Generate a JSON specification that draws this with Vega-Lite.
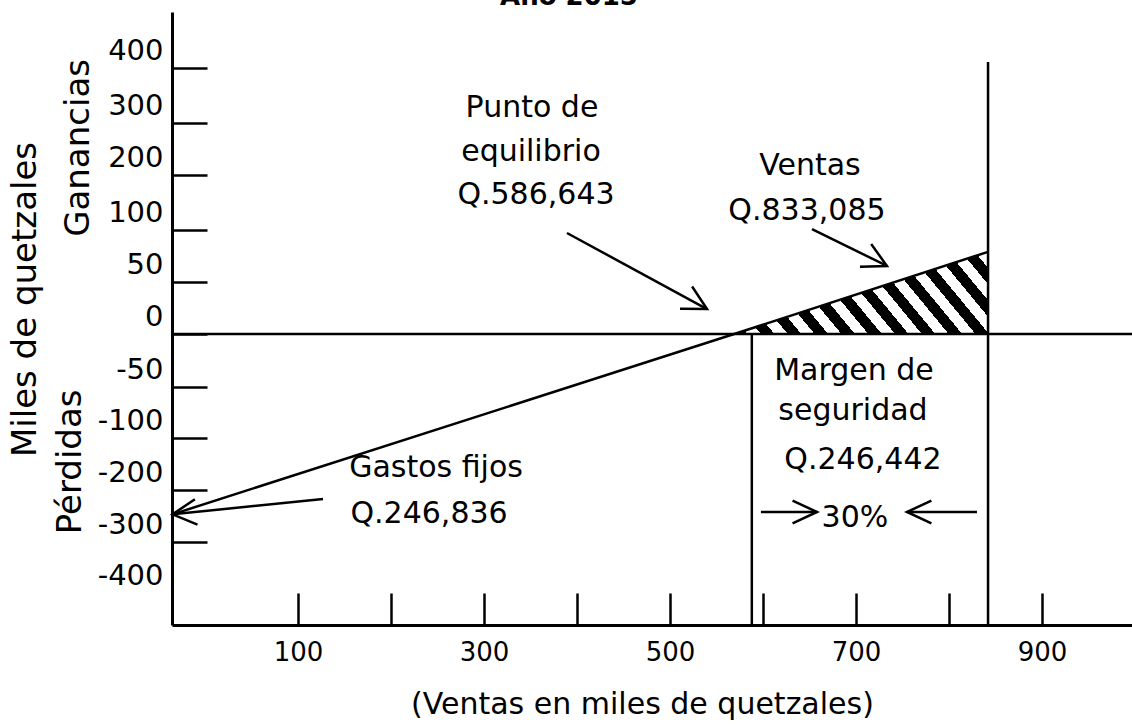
{
  "$schema": "https://vega.github.io/schema/vega-lite/v6.json",
  "width": 960,
  "height": 613,
  "autosize": {"type": "none"},
  "padding": {"left": 172, "top": 12, "right": 0, "bottom": 101},
  "background": "white",
  "config": {"view": {"stroke": null}, "font": "DejaVu Sans"},
  "datasets": {
    "equilibrio": [
      {"x": -35, "y": -246.8},
      {"x": 569, "y": 0},
      {"x": 842, "y": 79}
    ],
    "cero": [{"y": 0}],
    "verticales": [
      {"linea": "Punto de equilibrio", "x": 588, "y": 0, "y2": -462},
      {"linea": "Ventas", "x": 842, "y": 411, "y2": -462}
    ],
    "flechas": [
      {"flecha": "gastos", "x": 126.9, "y": -217.3, "x2": -35, "y2": -246.8},
      {"flecha": "punto", "x": 389.2, "y": 97.1, "x2": 539.8, "y2": 24.0},
      {"flecha": "ventas", "x": 652.7, "y": 101.8, "x2": 733.3, "y2": 65.4},
      {"flecha": "derecha", "x": 597.8, "y": -242.3, "x2": 658.1, "y2": -242.3},
      {"flecha": "izquierda", "x": 830.1, "y": -242.3, "x2": 754.8, "y2": -242.3}
    ],
    "textos": [
      {"texto": "Punto de", "x": 351.6, "y": 310.9},
      {"texto": "equilibrio", "x": 350.5, "y": 226.9},
      {"texto": "Q.586,643", "x": 355.9, "y": 147.3},
      {"texto": "Ventas", "x": 650.5, "y": 200},
      {"texto": "Q.833,085", "x": 647.3, "y": 118.2},
      {"texto": "Margen de", "x": 697.8, "y": -43.4},
      {"texto": "seguridad", "x": 696.8, "y": -82.4},
      {"texto": "Q.246,442", "x": 707.5, "y": -159.6},
      {"texto": "30%", "x": 698.9, "y": -271.2},
      {"texto": "Gastos fijos", "x": 248.4, "y": -175},
      {"texto": "Q.246,836", "x": 240.9, "y": -263.5}
    ],
    "zonas": [
      {"texto": "Ganancias", "x": -124.7, "y": 252},
      {"texto": "Pérdidas", "x": -133.3, "y": -146}
    ],
    "titulo": [
      {"texto": "Año 2015", "x": 391.4, "y": 514.7}
    ]
  },
  "layer": [
    {
      "data": {"name": "equilibrio"},
      "transform": [{"filter": "datum.x >= 569"}],
      "mark": {
        "type": "area",
        "fill": {
          "gradient": "linear", "x1": 0, "y1": 1, "x2": 1.183, "y2": 0.684,
          "stops": [
            {"offset": 0, "color": "#000"}, {"offset": 0.042, "color": "#000"}, {"offset": 0.042, "color": "#fff"}, {"offset": 0.0833, "color": "#fff"},
            {"offset": 0.0833, "color": "#000"}, {"offset": 0.1253, "color": "#000"}, {"offset": 0.1253, "color": "#fff"}, {"offset": 0.1667, "color": "#fff"},
            {"offset": 0.1667, "color": "#000"}, {"offset": 0.2087, "color": "#000"}, {"offset": 0.2087, "color": "#fff"}, {"offset": 0.25, "color": "#fff"},
            {"offset": 0.25, "color": "#000"}, {"offset": 0.292, "color": "#000"}, {"offset": 0.292, "color": "#fff"}, {"offset": 0.3333, "color": "#fff"},
            {"offset": 0.3333, "color": "#000"}, {"offset": 0.3753, "color": "#000"}, {"offset": 0.3753, "color": "#fff"}, {"offset": 0.4167, "color": "#fff"},
            {"offset": 0.4167, "color": "#000"}, {"offset": 0.4587, "color": "#000"}, {"offset": 0.4587, "color": "#fff"}, {"offset": 0.5, "color": "#fff"},
            {"offset": 0.5, "color": "#000"}, {"offset": 0.542, "color": "#000"}, {"offset": 0.542, "color": "#fff"}, {"offset": 0.5833, "color": "#fff"},
            {"offset": 0.5833, "color": "#000"}, {"offset": 0.6253, "color": "#000"}, {"offset": 0.6253, "color": "#fff"}, {"offset": 0.6667, "color": "#fff"},
            {"offset": 0.6667, "color": "#000"}, {"offset": 0.7087, "color": "#000"}, {"offset": 0.7087, "color": "#fff"}, {"offset": 0.75, "color": "#fff"},
            {"offset": 0.75, "color": "#000"}, {"offset": 0.792, "color": "#000"}, {"offset": 0.792, "color": "#fff"}, {"offset": 0.8333, "color": "#fff"},
            {"offset": 0.8333, "color": "#000"}, {"offset": 0.8753, "color": "#000"}, {"offset": 0.8753, "color": "#fff"}, {"offset": 0.9167, "color": "#fff"},
            {"offset": 0.9167, "color": "#000"}, {"offset": 0.9587, "color": "#000"}, {"offset": 0.9587, "color": "#fff"}, {"offset": 1, "color": "#fff"}
          ]
        },
        "stroke": null
      },
      "encoding": {
        "x": {
          "field": "x", "type": "quantitative",
          "scale": {"domain": [-35.5, 996.8], "nice": false, "zero": false},
          "axis": {
            "title": "(Ventas en miles de quetzales)",
            "values": [100, 200, 300, 400, 500, 600, 700, 800, 900],
            "labelExpr": "datum.value % 200 == 100 ? datum.label : ''",
            "grid": false,
            "domainColor": "black", "domainWidth": 3,
            "tickColor": "black", "tickWidth": 2.5, "tickSize": -32,
            "labelFont": "DejaVu Sans", "labelFontSize": 26, "labelColor": "black", "labelPadding": 46,
            "labelFlush": false, "labelOverlap": false,
            "titleFont": "DejaVu Sans", "titleFontSize": 30, "titleFontWeight": "normal", "titleColor": "black",
            "titleX": 470, "titleY": 88, "titleBaseline": "alphabetic", "titleAlign": "center"
          }
        },
        "y": {
          "field": "y", "type": "quantitative",
          "scale": {
            "domain": [-462, -400, -300, -200, -100, -50, 0, 50, 100, 200, 300, 400, 502],
            "range": [613, 581, 530, 478, 426, 375, 322, 270, 218, 163, 111, 56, 0],
            "nice": false, "zero": false
          },
          "axis": {
            "title": "Miles de quetzales",
            "values": [-400, -300, -200, -100, -50, 0, 50, 100, 200, 300, 400],
            "labelExpr": "datum.value < 0 ? '-' + abs(datum.value) : '' + datum.value",
            "grid": false,
            "domainColor": "black", "domainWidth": 3,
            "tickColor": {"condition": {"test": "datum.value == -400", "value": "transparent"}, "value": "black"},
            "tickWidth": 2.5, "tickSize": -35,
            "labelOffset": -18, "labelPadding": 44,
            "labelFont": "DejaVu Sans", "labelFontSize": 29, "labelColor": "black",
            "labelFlush": false, "labelOverlap": false,
            "titleFont": "DejaVu Sans", "titleFontSize": 34, "titleFontWeight": "normal", "titleColor": "black",
            "titleAngle": -90, "titleX": -137, "titleY": 287, "titleBaseline": "alphabetic", "titleAlign": "center"
          }
        },
        "y2": {"datum": 0}
      }
    },
    {
      "data": {"name": "cero"},
      "mark": {"type": "rule", "color": "black", "strokeWidth": 2.5},
      "encoding": {"y": {"field": "y", "type": "quantitative"}}
    },
    {
      "data": {"name": "verticales"},
      "mark": {"type": "rule", "color": "black", "strokeWidth": 2.5},
      "encoding": {
        "x": {"field": "x", "type": "quantitative"},
        "y": {"field": "y", "type": "quantitative"},
        "y2": {"field": "y2"}
      }
    },
    {
      "data": {"name": "equilibrio"},
      "mark": {"type": "line", "color": "black", "strokeWidth": 2.5},
      "encoding": {
        "x": {"field": "x", "type": "quantitative"},
        "y": {"field": "y", "type": "quantitative"}
      }
    },
    {
      "data": {"name": "flechas"},
      "mark": {"type": "rule", "color": "black", "strokeWidth": 2.5},
      "encoding": {
        "x": {"field": "x", "type": "quantitative"},
        "y": {"field": "y", "type": "quantitative"},
        "x2": {"field": "x2"},
        "y2": {"field": "y2"}
      }
    },
    {
      "data": {"name": "flechas"},
      "mark": {"type": "point", "filled": false, "color": "black", "strokeWidth": 2.5, "size": 2916, "opacity": 1},
      "encoding": {
        "x": {"field": "x2", "type": "quantitative"},
        "y": {"field": "y2", "type": "quantitative"},
        "shape": {
          "field": "flecha", "type": "nominal", "legend": null,
          "scale": {
            "domain": ["gastos", "punto", "ventas", "derecha", "izquierda"],
            "range": [
              "M0.831,-0.556L0,0L0.926,0.378",
              "M-1,-0.009L0,0L-0.552,-0.834",
              "M-1,0.03L0,0L-0.584,-0.812",
              "M-0.906,-0.423L0,0L-0.906,0.423",
              "M0.906,-0.423L0,0L0.906,0.423"
            ]
          }
        }
      }
    },
    {
      "data": {"name": "textos"},
      "mark": {"type": "text", "font": "DejaVu Sans", "fontSize": 30, "color": "black", "align": "center", "baseline": "alphabetic"},
      "encoding": {
        "x": {"field": "x", "type": "quantitative"},
        "y": {"field": "y", "type": "quantitative"},
        "text": {"field": "texto"}
      }
    },
    {
      "data": {"name": "zonas"},
      "mark": {"type": "text", "font": "DejaVu Sans", "fontSize": 34, "color": "black", "align": "center", "baseline": "alphabetic", "angle": -90},
      "encoding": {
        "x": {"field": "x", "type": "quantitative"},
        "y": {"field": "y", "type": "quantitative"},
        "text": {"field": "texto"}
      }
    },
    {
      "data": {"name": "titulo"},
      "mark": {"type": "text", "font": "DejaVu Sans", "fontSize": 26, "fontWeight": "bold", "color": "black", "align": "center", "baseline": "alphabetic"},
      "encoding": {
        "x": {"field": "x", "type": "quantitative"},
        "y": {"field": "y", "type": "quantitative"},
        "text": {"field": "texto"}
      }
    }
  ]
}
